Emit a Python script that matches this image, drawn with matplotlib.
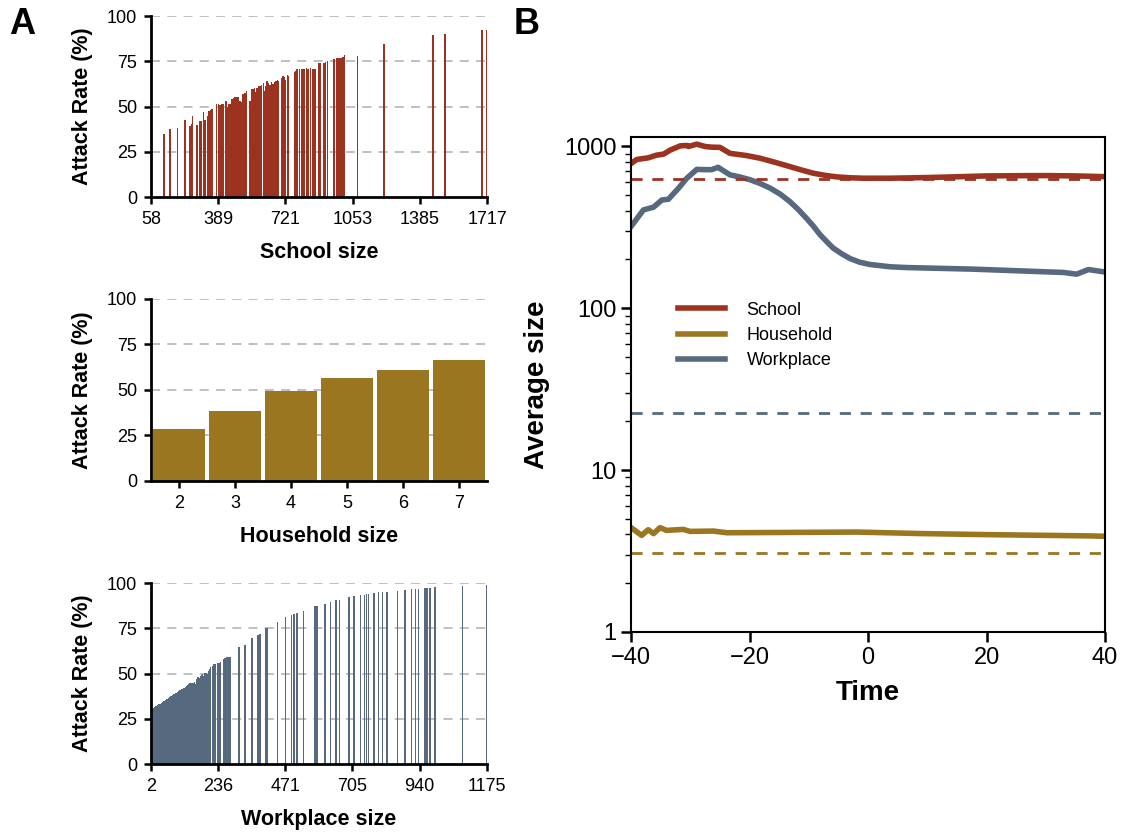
import matplotlib
matplotlib.use('Agg')
import matplotlib.pyplot as plt
import numpy as np

# ---- data ----
school_sizes = [122, 152, 189, 226, 250, 258, 263, 286, 300, 308, 316, 324, 337, 344, 352, 359,
                382, 390, 398, 408, 415, 428, 436, 444, 451, 457, 464, 472, 480, 488, 497, 503,
                513, 521, 530, 546, 554, 562, 569, 575, 582, 589, 595, 603, 612, 618, 625, 631,
                638, 645, 653, 661, 667, 674, 681, 687, 704, 710, 717, 723, 731, 738, 765, 773,
                779, 792, 802, 809, 817, 825, 833, 846, 854, 863, 871, 887, 895, 912, 920, 928,
                961, 976, 982, 991, 999, 1006, 1013, 1077, 1208, 1450, 1506, 1512, 1691, 1714]
school_rates = [34.6, 37.8, 38.3, 42.4, 39.5, 40.5, 44.8, 40.0, 42.0, 42.0, 47.0, 42.5, 45.0, 47.5, 48.3, 48.5,
                51.2, 51.5, 51.0, 51.5, 51.3, 53.0, 49.5, 51.5, 51.5, 54.0, 54.5, 55.0, 55.0, 55.0, 53.0, 52.5,
                57.0, 57.5, 58.5, 53.0, 59.5, 59.5, 60.5, 58.0, 60.5, 61.5, 61.5, 62.0, 63.0, 58.5, 61.5, 64.0,
                63.0, 62.0, 63.5, 62.5, 63.5, 64.0, 64.5, 64.0, 65.5, 67.0, 66.5, 64.5, 67.5, 67.0, 69.0, 69.5,
                70.5, 70.5, 71.0, 70.5, 70.5, 71.5, 71.0, 71.5, 71.0, 71.0, 71.0, 74.0, 74.0, 74.0, 74.5, 75.0,
                76.0, 77.0, 77.0, 77.0, 77.0, 77.5, 78.5, 78.0, 84.5, 89.5, 90.0, 90.0, 92.5, 92.5]
school_ticks = [58, 389, 721, 1053, 1385, 1717]

household_sizes = [2, 3, 4, 5, 6, 7]
household_rates = [28.5, 38.5, 49.5, 56.5, 61.0, 66.2]

# dense part of the workplace distribution (bin width 4)
work_dense_sizes = [2, 6, 10, 14, 18, 22, 26, 30, 34, 38, 42, 46, 50, 54, 58, 62, 66, 70, 74, 78,
                    82, 86, 90, 94, 98, 102, 106, 110, 114, 118, 122, 126, 130, 134, 138, 142, 146,
                    150, 154, 158, 162, 166, 170, 174, 178, 182, 186, 190, 194, 198, 202, 206, 210,
                    218, 222, 226, 234, 238, 242, 246, 254, 258, 262, 266, 270, 274, 278]
work_dense_rates = [30.0, 30.4, 30.8, 31.3, 31.8, 32.0, 32.4, 32.9, 33.2, 33.5, 34.2, 34.6, 34.9, 35.4,
                    35.8, 36.5, 36.9, 37.4, 37.6, 38.2, 38.6, 39.0, 39.3, 40.0, 40.3, 40.8, 41.0, 41.6,
                    41.9, 42.2, 42.5, 43.0, 43.6, 44.2, 44.6, 44.8, 44.9, 44.7, 45.1, 44.3, 47.0, 48.2,
                    47.5, 48.6, 49.1, 49.5, 48.8, 50.5, 50.3, 49.8, 51.2, 52.4, 53.8,
                    54.2, 55.2, 55.4, 55.6, 55.8, 55.9, 56.4, 57.8, 58.6, 58.4, 58.9, 59.3, 59.4, 59.0]
work_sparse_sizes = [309, 330, 354, 376, 383, 404, 409, 444, 471, 493, 501, 511, 534, 575, 581, 610,
                     629, 648, 659, 693, 710, 734, 747, 755, 762, 781, 796, 811, 826, 863, 889, 912,
                     925, 936, 959, 965, 976, 994, 1090, 1173]
work_sparse_rates = [64.9, 65.8, 69.5, 71.2, 71.7, 75.0, 75.0, 78.4, 81.0, 82.4, 83.0, 83.4, 84.8, 87.1,
                     87.1, 88.5, 89.5, 90.6, 90.8, 92.1, 92.6, 93.3, 93.3, 93.7, 93.9, 94.5, 94.8, 95.2,
                     95.2, 95.7, 96.1, 96.7, 96.7, 96.7, 97.2, 97.2, 97.2, 97.6, 98.5, 99.1]
work_ticks = [2, 236, 471, 705, 940, 1175]

# panel B time series
school_t = [-40, -39, -37.1, -35.7, -34.5, -33.4, -31.7, -30.6, -30.3, -28.9, -27.5, -26.4, -25, -23.3,
            -20.5, -18.2, -15.7, -13.2, -11.2, -9.2, -7.2, -5.3, -3.0, -0.8, 3.7, 10, 15, 20, 25, 30, 35, 40]
school_avg = [782, 828, 847, 880, 893, 945, 1004, 1010, 995, 1029, 995, 986, 983, 903,
              875, 842, 795, 748, 712, 680, 660, 646, 638, 634, 634, 640, 647, 655, 657, 658, 655, 648]
household_t = [-40, -38.2, -37.1, -36.2, -35.1, -34, -31.2, -30, -26.1, -23.8, -1.9, 9.3, 20.6, 37.5, 40]
household_avg = [4.41, 3.95, 4.28, 4.05, 4.41, 4.24, 4.30, 4.18, 4.20, 4.10, 4.14, 4.05, 3.99, 3.92, 3.90]
work_t = [-40, -37.9, -36.2, -34.8, -33.7, -32.0, -30.6, -28.9, -27.5, -26.4, -25.3, -23.3, -21.6,
          -19.9, -18.2, -16.5, -14.8, -13.2, -11.8, -10.4, -9.2, -8.1, -7.0, -5.9, -4.4, -3.0, -1.4,
          0.3, 3.7, 6.5, 12.1, 17.7, 23.4, 29.0, 33.0, 35.2, 37.2, 40]
work_avg = [319, 404, 420, 465, 470, 549, 633, 719, 716, 716, 740, 665, 645,
            620, 588, 550, 505, 455, 407, 359, 320, 284, 258, 235, 216, 202, 192,
            186, 180, 178, 176, 174, 171, 168, 166, 162, 173, 167]

school_mean = 627
household_mean = 3.09
work_mean = 22.6

C_SCHOOL = '#9C3320'
C_HOUSE = '#9B7621'
C_WORK = '#57697F'

plt.rcParams['font.family'] = ['Liberation Sans', 'DejaVu Sans']

fig = plt.figure(figsize=(11.22, 8.32), dpi=100)

ax1 = fig.add_axes([0.1346, 0.7632, 0.2995, 0.2175])
ax2 = fig.add_axes([0.1346, 0.4219, 0.2995, 0.2188])
ax3 = fig.add_axes([0.1346, 0.0817, 0.2995, 0.2175])
axb = fig.add_axes([0.5624, 0.2404, 0.4225, 0.595])


def style_a(ax, xlabel):
    ax.set_ylim(0, 100)
    ax.set_yticks([0, 25, 50, 75, 100])
    for y in [25, 50, 75, 100]:
        ax.axhline(y, color='#bbbbbb', linestyle=(0, (5, 4)), linewidth=1.3, zorder=0)
    for s in ['top', 'right']:
        ax.spines[s].set_visible(False)
    for s in ['left', 'bottom']:
        ax.spines[s].set_linewidth(2)
    ax.tick_params(axis='both', direction='out', length=5, width=1.8, labelsize=13, pad=5)
    ax.set_xlabel(xlabel, fontsize=15.5, fontweight='bold', labelpad=10)
    ax.set_ylabel('Attack Rate (%)', fontsize=15.5, fontweight='bold', labelpad=10)


ax1.bar(school_sizes, school_rates, width=7, color=C_SCHOOL, zorder=2)
ax1.set_xlim(58, 1717)
ax1.set_xticks(school_ticks)
style_a(ax1, 'School size')

ax2.bar(household_sizes, household_rates, width=0.92, color=C_HOUSE, zorder=2)
ax2.set_xlim(1.5, 7.5)
ax2.set_xticks(household_sizes)
style_a(ax2, 'Household size')

ax3.bar(work_dense_sizes, work_dense_rates, width=4, color=C_WORK, zorder=2)
ax3.bar(work_sparse_sizes, work_sparse_rates, width=5, color=C_WORK, zorder=2)
ax3.set_xlim(2, 1175)
ax3.set_xticks(work_ticks)
style_a(ax3, 'Workplace size')

# panel B
axb.plot(school_t, school_avg, color=C_SCHOOL, linewidth=4, label='School')
axb.plot(household_t, household_avg, color=C_HOUSE, linewidth=4, label='Household')
axb.plot(work_t, work_avg, color=C_WORK, linewidth=4, label='Workplace')
axb.axhline(school_mean, color=C_SCHOOL, linestyle=(0, (4, 3.5)), linewidth=2)
axb.axhline(household_mean, color=C_HOUSE, linestyle=(0, (4, 3.5)), linewidth=2)
axb.axhline(work_mean, color=C_WORK, linestyle=(0, (4, 3.5)), linewidth=2)
axb.set_yscale('log')
axb.set_ylim(1, 1140)
axb.set_xlim(-40, 40)
axb.set_xticks([-40, -20, 0, 20, 40])
axb.set_xticklabels(['\u221240', '\u221220', '0', '20', '40'])
axb.set_yticks([1, 10, 100, 1000])
axb.set_yticklabels(['1', '10', '100', '1000'])
axb.tick_params(axis='both', which='major', direction='out', length=7, width=1.8, labelsize=17)
axb.tick_params(axis='y', which='minor', direction='out', length=4, width=1)
for s in axb.spines.values():
    s.set_linewidth(1.5)
axb.set_xlabel('Time', fontsize=20, fontweight='bold', labelpad=8)
axb.set_ylabel('Average size', fontsize=20, fontweight='bold', labelpad=10)
leg = axb.legend(loc='upper left', bbox_to_anchor=(0.065, 0.7), frameon=False,
                 fontsize=13, handlelength=2.6, handletextpad=1.2, labelspacing=0.45)
for h in leg.get_lines():
    h.set_linewidth(4)

fig.text(0.008, 0.97, 'A', fontsize=26, fontweight='bold', va='center')
fig.text(0.458, 0.97, 'B', fontsize=26, fontweight='bold', va='center')

fig.savefig('out.png', dpi=100, facecolor='white')
